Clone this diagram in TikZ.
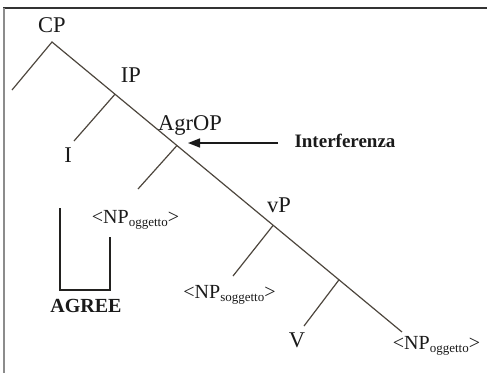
\documentclass[tikz,border=0pt]{standalone}
\usepackage{fontspec}
\setmainfont{Liberation Serif}
\usetikzlibrary{calc,arrows.meta}
\definecolor{treeline}{HTML}{4D463D}
\definecolor{txt}{HTML}{1A1A1A}
\newcommand\npsub[1]{\fontsize{20}{20}\selectfont<NP\raisebox{-3pt}{\fontsize{13}{13}\selectfont #1}>}
\tikzset{
  lbl/.style={anchor=base,inner sep=0pt,text=txt,font=\fontsize{22.5}{22.5}\selectfont},
  npl/.style={anchor=base,inner sep=0pt,text=txt},
  boldl/.style={anchor=base,inner sep=0pt,text=txt,font=\bfseries\fontsize{19}{19}\selectfont},
  branch/.style={draw=treeline,line width=1.2pt},
  bracket/.style={draw=txt!85!treeline,line width=1.4pt},
}
\begin{document}
\begin{tikzpicture}[x=1pt,y=-1pt]
\useasboundingbox (0,0) rectangle (487,373);
% frame
\draw[draw=black!80,line width=1.5pt] (3,8) -- (487,8);
\draw[draw=black!45,line width=2pt] (4,8) -- (4,373);
% tree coordinates
\coordinate (top) at (52,42);
\coordinate (bottom) at (402,332);
\coordinate (cpleft) at (12,90);
\coordinate (ipj) at ($(top)!0.18!(bottom)$);
\coordinate (agrj) at ($(top)!0.357!(bottom)$);
\coordinate (vpj) at ($(top)!0.632!(bottom)$);
\coordinate (vj) at ($(top)!0.82!(bottom)$);
\coordinate (iend) at (74,141);
\coordinate (np1end) at (138,189);
\coordinate (npsend) at (233,276);
\coordinate (vend) at (304,326);
% branches
\draw[branch] (cpleft) -- (top) -- (bottom);
\draw[branch] (ipj) -- (iend);
\draw[branch] (agrj) -- (np1end);
\draw[branch] (vpj) -- (npsend);
\draw[branch] (vj) -- (vend);
% labels
\node[lbl] (cp) at (52,32) {CP};
\node[lbl] (ip) at (131,82) {IP};
\node[lbl] (agrop) at (190,130) {AgrOP};
\node[lbl] (i) at (68,162) {I};
\node[lbl] (vp) at (279,212) {vP};
\node[lbl] (v) at (297,347) {V};
\node[npl] (np1) at (135.5,223) {\npsub{oggetto}};
\node[npl] (nps) at (229.5,298) {\npsub{soggetto}};
\node[npl] (np3) at (436.5,349) {\npsub{oggetto}};
\node[boldl] (interf) at (345,147) {Interferenza};
\node[boldl,font=\bfseries\fontsize{20}{20}\selectfont] (agree) at (86,312) {AGREE};
% arrow
\coordinate (arrstart) at (278,143);
\coordinate (arrtip) at (188,143);
\draw[draw=txt,line width=1.5pt,-{Triangle[length=12pt,width=9pt]}] (arrstart) -- (arrtip);
% agree bracket
\coordinate (bl) at (60,208);
\coordinate (br) at (110,237);
\draw[bracket] (bl) -- (60,290) -- (110,290) -- (br);
\end{tikzpicture}
\end{document}
